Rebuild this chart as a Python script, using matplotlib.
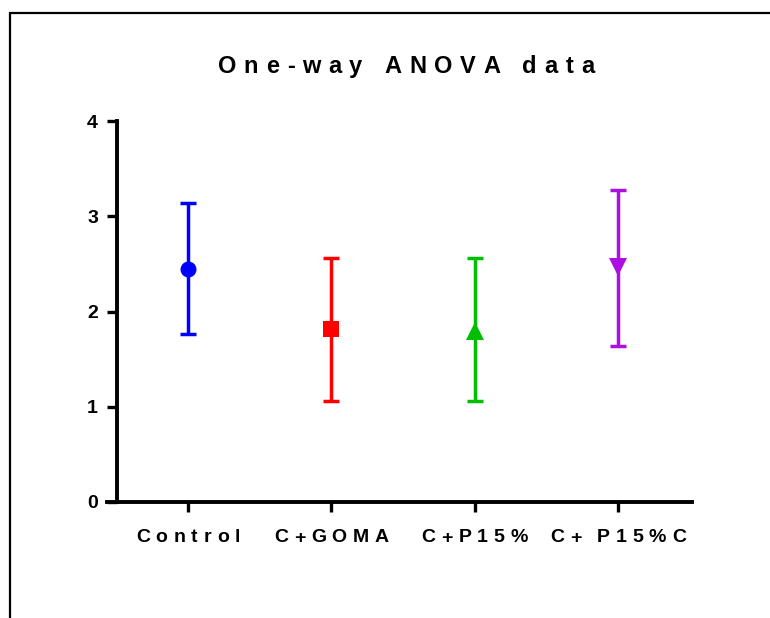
import matplotlib
matplotlib.use("Agg")
import matplotlib.pyplot as plt
import matplotlib.text as mtext
from matplotlib.patches import Rectangle
from matplotlib.transforms import blended_transform_factory
import numpy as np

categories = ["Control", "C+GOMA", "C+P15%", "C+ P15%C"]
means = [2.45, 1.82, 1.80, 2.47]
lower = [1.76, 1.06, 1.06, 1.64]
upper = [3.14, 2.565, 2.565, 3.275]
colors = ["#0000FF", "#FF0000", "#00BF00", "#AD0FE2"]
markers = ["o", "s", "^", "v"]
yticks = [0, 1, 2, 3, 4]
title = "One-way ANOVA data"

plt.rcParams['font.family'] = ['Liberation Sans', 'DejaVu Sans']
plt.rcParams['font.weight'] = 'bold'


class TrackedText(mtext.Text):
    """A Text whose characters are drawn with extra letter spacing (in pixels)."""

    def __init__(self, *args, gap=0.0, space=0.278, **kwargs):
        super().__init__(*args, **kwargs)
        self._gap = gap
        self._space = space

    def draw(self, renderer):
        if not self.get_visible() or not self.get_text():
            return
        s = self.get_text()
        prop = self.get_fontproperties()
        em = renderer.points_to_pixels(prop.get_size_in_points())
        widths = []
        for c in s:
            if c == ' ':
                widths.append(self._space * em)
            else:
                widths.append(renderer.get_text_width_height_descent(c, prop, ismath=False)[0])
        total = sum(widths) + self._gap * (len(s) - 1)
        x, y = self.get_transform().transform(self.get_position())
        ha = self.get_horizontalalignment()
        if ha == 'center':
            x -= total / 2
        elif ha == 'right':
            x -= total
        if renderer.flipy():
            y = renderer.get_canvas_width_height()[1] - y
        gc = renderer.new_gc()
        gc.set_foreground(self.get_color())
        gc.set_alpha(self.get_alpha())
        for c, w in zip(s, widths):
            if c != ' ':
                renderer.draw_text(gc, x, y, c, prop, 0.0, ismath=False, mtext=None)
            x += w + self._gap
        gc.restore()


W, H = 770, 618
fig = plt.figure(figsize=(W / 100, H / 100), dpi=100)

# outer frame (cut off at right and bottom)
fig.patches.append(Rectangle((10 / W, -0.2), 1.2, (H - 12.5) / H + 0.2,
                             transform=fig.transFigure, fill=False,
                             edgecolor="black", linewidth=1.6))

ax = fig.add_axes([107 / W, (H - 502) / H, 585 / W, (502 - 121) / H])
x = np.arange(len(categories))
for i in range(len(categories)):
    yerr = [[means[i] - lower[i]], [upper[i] - means[i]]]
    ax.errorbar(x[i], means[i], yerr=yerr, fmt='none', ecolor=colors[i],
                elinewidth=2.5, capsize=5.8, capthick=2.5, zorder=3,
                clip_on=False)
    ax.plot(x[i], means[i], marker=markers[i], color=colors[i],
            markersize=11.5 if markers[i] in ("o", "s") else 12.5,
            markeredgewidth=0, linestyle='none', zorder=4, clip_on=False)

ax.set_xlim(-0.565, 3.517)
ax.set_ylim(0, 4)
ax.spines['left'].set_position(('data', -0.495))
ax.spines['top'].set_visible(False)
ax.spines['right'].set_visible(False)
for s in ('left', 'bottom'):
    ax.spines[s].set_linewidth(2.8)
    ax.spines[s].set_capstyle('projecting')

ax.set_yticks(yticks)
ax.set_yticklabels([str(v) for v in yticks], fontsize=14, fontweight='bold')
ax.set_xticks(x)
ax.tick_params(axis='y', length=7.2, width=2.4, pad=6.5)
ax.tick_params(axis='x', length=7.2, width=2.4, labelbottom=False)

# category labels with letter spacing, baseline below the axis
tr = blended_transform_factory(ax.transData, fig.transFigure)
for xi, lab in zip(x, categories):
    fig.add_artist(TrackedText(xi, (H - 542.5) / H, lab, transform=tr,
                               ha='center', va='baseline', fontsize=14,
                               fontweight='bold', gap=5.8, space=0.2))

fig.add_artist(TrackedText(406 / W, (H - 73) / H, title, ha='center',
                           va='baseline', fontsize=17, fontweight='bold',
                           gap=7.7))

fig.savefig("out.png", dpi=100)
